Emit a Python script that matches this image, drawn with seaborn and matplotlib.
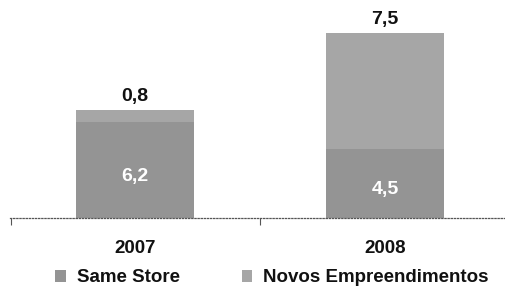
import matplotlib
matplotlib.use("Agg")
import matplotlib.pyplot as plt
import seaborn as sns
import pandas as pd
from matplotlib.ticker import FixedLocator

years = ["2007", "2008"]
same_store = [6.2, 4.5]
novos = [0.8, 7.5]
series_names = ["Same Store", "Novos Empreendimentos"]
colors = ["#949494", "#a6a6a6"]

sns.set_theme(style="white")
plt.rcParams["font.family"] = ["Liberation Sans", "DejaVu Sans"]

totals = [a + b for a, b in zip(same_store, novos)]
df = pd.DataFrame({"year": years, "same": same_store, "novos": novos, "total": totals})

fig = plt.figure(figsize=(5.06, 2.95), dpi=100)
ax = fig.add_axes([10 / 506, 77 / 295, 500 / 506, 218 / 295])

sns.barplot(data=df, x="year", y="total", color=colors[1], width=0.47,
            saturation=1, ax=ax, label=series_names[1], linewidth=0, edgecolor="none")
sns.barplot(data=df, x="year", y="same", color=colors[0], width=0.47,
            saturation=1, ax=ax, label=series_names[0], linewidth=0, edgecolor="none")
if ax.get_legend() is not None:
    ax.get_legend().remove()

ax.set_xlim(-0.5, 1.5)
ax.set_ylim(0, 14.13)
ax.set_xlabel("")
ax.set_ylabel("")
ax.set_yticks([])
for s in ["top", "right", "left"]:
    ax.spines[s].set_visible(False)
ax.spines["bottom"].set_linestyle((0, (1, 1.5)))
ax.spines["bottom"].set_color("#555555")
ax.spines["bottom"].set_linewidth(0.9)

ax.tick_params(axis="x", which="major", length=0, pad=16, labelsize=13.5)
for lbl in ax.get_xticklabels():
    lbl.set_fontweight("bold")
    lbl.set_color("#111111")
ax.xaxis.set_minor_locator(FixedLocator([-0.495, 0.5, 1.5]))
ax.tick_params(axis="x", which="minor", bottom=True, length=5, width=0.8,
               color="#555555", direction="out")

for i in range(len(years)):
    ax.text(i, totals[i] + 0.3, f"{novos[i]:.1f}".replace(".", ","), ha="center", va="bottom",
            fontsize=14, fontweight="bold", color="#111111")
ax.text(0, 2.7, f"{same_store[0]:.1f}".replace(".", ","), ha="center", va="center",
        fontsize=14, fontweight="bold", color="white")
ax.text(1, 1.85, f"{same_store[1]:.1f}".replace(".", ","), ha="center", va="center",
        fontsize=14, fontweight="bold", color="white")

handles, labels = ax.get_legend_handles_labels()
order = [labels.index(n) for n in series_names]
leg = fig.legend([handles[k] for k in order], [labels[k] for k in order],
                 loc="center", bbox_to_anchor=(272 / 506, 1 - 278 / 295), ncol=2,
                 frameon=False, handlelength=0.55, handleheight=0.55, handletextpad=0.6,
                 columnspacing=3.3, prop={"weight": "bold", "size": 13.5})
for t in leg.get_texts():
    t.set_color("#111111")

fig.savefig("out.png", dpi=100)
